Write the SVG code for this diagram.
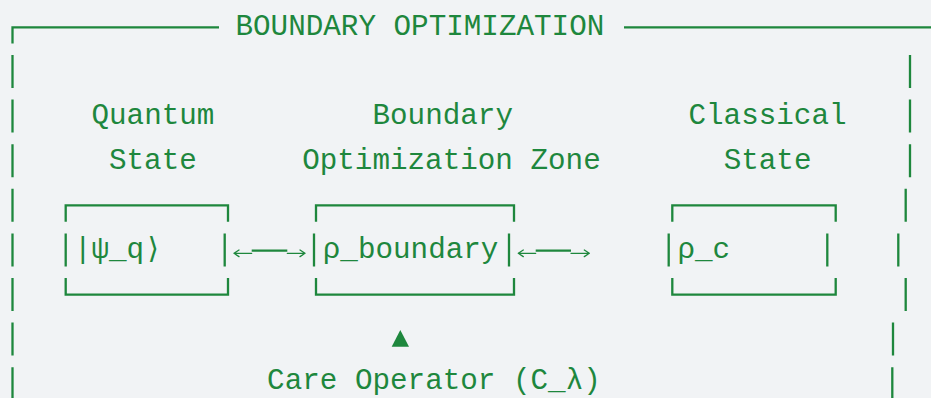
<svg xmlns="http://www.w3.org/2000/svg" width="931" height="398" viewBox="0 0 931 398">
<style>
.ln{stroke:#1e873d;stroke-width:2.3;fill:none;stroke-linecap:butt;stroke-linejoin:miter}
.th{stroke:#1e873d;stroke-width:1.3;fill:none;stroke-linecap:round;stroke-linejoin:round}
.t{font-family:"Liberation Mono","DejaVu Sans Mono",monospace;font-size:29.27px;fill:#1e873d}
.head{fill:#1e873d}
</style>
<rect width="931" height="398" fill="#f1f3f5"/>
<g id="frame">
<path class="ln" d="M12.5 43.4V27.3H219M624 27.3H931"/>
<path class="ln" d="M12.5 55V88M12.5 99.6V132.6M12.5 144.2V177.2M12.5 188.8V221.8M12.5 233.4V266.4M12.5 278V311M12.5 322.6V355.6M12.5 367.2V400.2"/>
<path class="ln" d="M910 55V88M910 99.6V132.6M910 144.2V177.2M905.7 188.8V221.8M898.3 233.4V266.4M905.7 278V311M893 322.6V355.6M892.3 367.2V400.2"/>
<text class="t" x="235.5" y="35">BOUNDARY OPTIMIZATION</text>
</g>
<g id="quantum-state">
<text class="t" x="91.5" y="124.2">Quantum</text>
<text class="t" x="109" y="168.8">State</text>
<path class="ln" d="M65.7 221.8V205.4H228V221.8M65.7 233.4V266.4M224.7 233.4V266.4M65.7 278V294.6H228V278"/>
<text class="t" x="73.9" y="258">|ψ_q⟩</text>
</g>
<g id="boundary-zone">
<text class="t" x="372.5" y="124.2">Boundary</text>
<text class="t" x="302.2" y="168.8">Optimization Zone</text>
<path class="ln" d="M316 221.8V205.4H514V221.8M314 233.4V266.4M509 233.4V266.4M316 278V294.6H514V278"/>
<text class="t" x="322.8" y="258">ρ_boundary</text>
</g>
<g id="classical-state">
<text class="t" x="688.5" y="124.2">Classical</text>
<text class="t" x="723.7" y="168.8">State</text>
<path class="ln" d="M672.3 221.8V205.4H835.7V221.8M668.7 233.4V266.4M827.3 233.4V266.4M672.3 278V294.6H835.7V278"/>
<text class="t" x="677.5" y="258">ρ_c</text>
</g>
<g id="care-operator">
<text class="t" x="267.1" y="389">Care Operator (C_λ)</text>
</g>
<g id="connectors">
<path class="th" d="M234 253.3H251.7M287.3 253.3H305M239 250L234 253.3L239 256.6M300 250L305 253.3L300 256.6"/>
<path class="ln" d="M251.7 250.7H287.3"/>
<path class="th" d="M518.3 253.3H535.7M571 253.3H589.3M523.3 250L518.3 253.3L523.3 256.6M584.3 250L589.3 253.3L584.3 256.6"/>
<path class="ln" d="M535.7 250.7H571"/>
<polygon class="head" points="391.7,346.7 409,346.7 400.3,330"/>
</g>
</svg>
